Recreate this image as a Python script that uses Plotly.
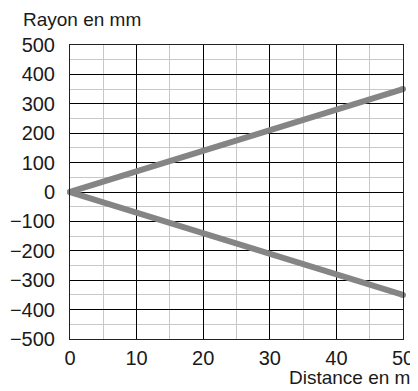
import plotly.graph_objects as go

# donnees
distance = [0, 50]
rayon_haut = [0, 350]
rayon_bas = [0, -350]

gris = "#858585"

fig = go.Figure()
for rayon in [rayon_haut, rayon_bas]:
    fig.add_trace(go.Scatter(x=distance, y=rayon, mode="lines+markers",
                             line=dict(color=gris, width=6),
                             marker=dict(color=gris, size=6),
                             cliponaxis=False, hoverinfo="skip"))

fig.update_xaxes(range=[0, 50], dtick=10, showgrid=True, gridcolor="#000000", gridwidth=1,
                 minor=dict(dtick=5, showgrid=True, gridcolor="#c8c8c8", gridwidth=1),
                 showline=True, linecolor="#222222", linewidth=1, mirror=True,
                 zeroline=False, ticks="outside", ticklen=1, tickcolor="rgba(0,0,0,0)",
                 tickfont=dict(size=20, color="#1a1a1a"), automargin=False)
fig.update_yaxes(range=[-500, 500], dtick=100, showgrid=True, gridcolor="#000000", gridwidth=1,
                 minor=dict(dtick=50, showgrid=True, gridcolor="#c8c8c8", gridwidth=1),
                 showline=True, linecolor="#222222", linewidth=1, mirror=True,
                 zeroline=False, ticks="outside", ticklen=10, tickcolor="rgba(0,0,0,0)",
                 tickfont=dict(size=20, color="#1a1a1a"), automargin=False)

fig.add_annotation(text="Rayon en mm", xref="paper", yref="paper", x=-0.147, y=1.0,
                   xanchor="left", yanchor="middle", yshift=26, showarrow=False,
                   font=dict(size=19, color="#1a1a1a"))
fig.add_annotation(text="Distance en mm", xref="paper", yref="paper", x=0.652, y=0,
                   xanchor="left", yanchor="middle", yshift=-38, showarrow=False,
                   font=dict(size=19, color="#1a1a1a"))

fig.update_layout(width=418, height=391, showlegend=False,
                  margin=dict(l=62, r=23, t=37, b=60, autoexpand=False),
                  plot_bgcolor="white", paper_bgcolor="white",
                  font=dict(family="Liberation Sans, Arial, sans-serif"))

fig.write_html("out.html")
